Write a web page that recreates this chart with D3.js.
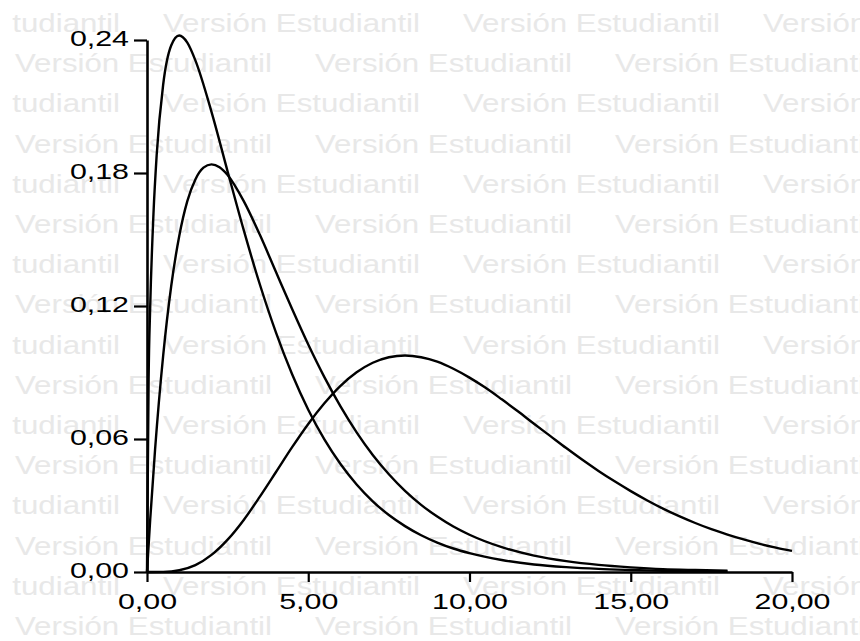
<html>
<head>
<meta charset="utf-8">
<title>Chi-cuadrado</title>
<script src="https://cdnjs.cloudflare.com/ajax/libs/d3/7.8.5/d3.min.js"></script>
<style>
  body { margin: 0; background: #fff; }
  svg { display: block; }
  text { font-family: "Liberation Sans", Arial, sans-serif; }
</style>
</head>
<body>
<div class="chart"></div>
<script>
// x positions and densities (three curves)
var xA = [0, 0.05, 0.1, 0.2, 0.3, 0.5, 0.75, 1, 1.25, 1.5, 2, 2.5,
          3, 3.5, 4, 4.5, 5, 5.5, 6, 6.5, 7, 7.5, 8, 8.5, 9, 9.5, 10,
          11, 12, 13, 14, 15, 16, 17, 18];
var yA = [0, 0.0870, 0.1200, 0.1614, 0.1881, 0.2197, 0.2375, 0.2420, 0.2388, 0.2308, 0.2076, 0.1807,
          0.1542, 0.1297, 0.1080, 0.0892, 0.0732, 0.0598, 0.0487, 0.0395, 0.0319, 0.0257, 0.0207, 0.0166, 0.0133, 0.0106, 0.0085,
          0.0054, 0.0034, 0.0022, 0.0014, 0.0009, 0.0005, 0.0003, 0.0002];

var xB = [0, 0.1, 0.25, 0.5, 0.75, 1, 1.25, 1.5, 1.75, 2, 2.25, 2.5,
          3, 3.5, 4, 4.5, 5, 5.5, 6, 6.5, 7, 7.5, 8, 8.5, 9, 9.5, 10,
          11, 12, 13, 14, 15, 16, 17, 18];
var yB = [0, 0.0238, 0.0552, 0.0974, 0.1289, 0.1516, 0.1673, 0.1771, 0.1824, 0.1839, 0.1826, 0.1791,
          0.1673, 0.1521, 0.1353, 0.1186, 0.1026, 0.0879, 0.0747, 0.0630, 0.0528, 0.0441, 0.0366, 0.0303, 0.0250, 0.0205, 0.0168,
          0.0112, 0.0074, 0.0049, 0.0032, 0.0021, 0.0013, 0.0009, 0.0006];

var xC = [0, 0.5, 1, 1.5, 2, 2.5, 3, 3.5, 4, 4.5, 5, 5.5, 6, 6.5, 7, 7.5, 8, 8.5, 9, 9.5, 10,
          10.5, 11, 11.5, 12, 12.5, 13, 13.5, 14, 14.5, 15, 15.5, 16, 16.5, 17, 17.5, 18, 18.5, 19, 19.5, 20];
var yC = [0, 0.00006, 0.00079, 0.0031, 0.0077, 0.0146, 0.0235, 0.0340, 0.0451, 0.0563, 0.0668,
          0.0761, 0.0840, 0.0901, 0.0944, 0.0969, 0.0977, 0.0969, 0.0949, 0.0917, 0.0877,
          0.0831, 0.0779, 0.0725, 0.0669, 0.0614, 0.0559, 0.0506, 0.0456, 0.0409, 0.0365,
          0.0324, 0.0286, 0.0252, 0.0221, 0.0193, 0.0169, 0.0147, 0.0127, 0.0110, 0.0095];

var xTicks = [0, 5, 10, 15, 20];
var yTicks = [0, 0.06, 0.12, 0.18, 0.24];
var watermark = "Versión Estudiantil";

var W = 860, H = 641;
var svg = d3.select(".chart").append("svg").attr("width", W).attr("height", H);
svg.append("rect").attr("width", W).attr("height", H).attr("fill", "#fff");

// watermark rows
svg.append("clipPath").attr("id", "wm").append("rect")
  .attr("x", 12).attr("y", 0).attr("width", W - 12).attr("height", H);
var wm = svg.append("g").attr("clip-path", "url(#wm)");
for (var r = 0; r < 16; r++) {
  var starts = (r % 2 == 0) ? [-137, 163, 463, 763] : [15, 315, 615];
  for (var k = 0; k < starts.length; k++) {
    wm.append("text")
      .attr("transform", "translate(" + starts[k] + "," + (32 + 40.2 * r) + ") scale(1.25,1)")
      .attr("font-size", 25)
      .attr("fill", "#e8e8e8")
      .text(watermark);
  }
}

var x = d3.scaleLinear().domain([0, 20]).range([147, 792]);
var y = d3.scaleLinear().domain([0, 0.24]).range([572, 40]);

var loc = d3.formatLocale({decimal: ",", thousands: ".", grouping: [3], currency: ["", ""]});
var fmt = loc.format(".2f");

var line = d3.line()
  .x(function(d){ return x(d[0]); })
  .y(function(d){ return y(d[1]); })
  .curve(d3.curveMonotoneX);

var series = [d3.zip(xC, yC), d3.zip(xB, yB), d3.zip(xA, yA)];
svg.append("g").selectAll("path")
  .data(series)
  .enter()
  .append("path")
  .attr("d", line)
  .attr("fill", "none")
  .attr("stroke", "#000")
  .attr("stroke-width", 2.4);

// axes
var gx = svg.append("g").attr("transform", "translate(0,572)")
  .call(d3.axisBottom(x).tickValues(xTicks).tickSize(10).tickSizeOuter(0).tickFormat(fmt));
var gy = svg.append("g").attr("transform", "translate(147,0)")
  .call(d3.axisLeft(y).tickValues(yTicks).tickSize(13).tickSizeOuter(0).tickFormat(fmt));

[gx, gy].forEach(function(g){
  g.select(".domain").attr("stroke", "#000").attr("stroke-width", 2.6);
  g.selectAll(".tick line").attr("stroke", "#000").attr("stroke-width", 2.2);
  g.selectAll(".tick text")
    .attr("fill", "#000")
    .attr("font-size", 22)
    .attr("font-family", "Liberation Sans, Arial, sans-serif")
    .attr("x", null).attr("y", null).attr("dy", null);
});
gx.selectAll(".tick text").attr("transform", "translate(0,37) scale(1.38,1)");
gy.selectAll(".tick text").attr("transform", "translate(-18,5) scale(1.38,1)");
</script>
</body>
</html>
